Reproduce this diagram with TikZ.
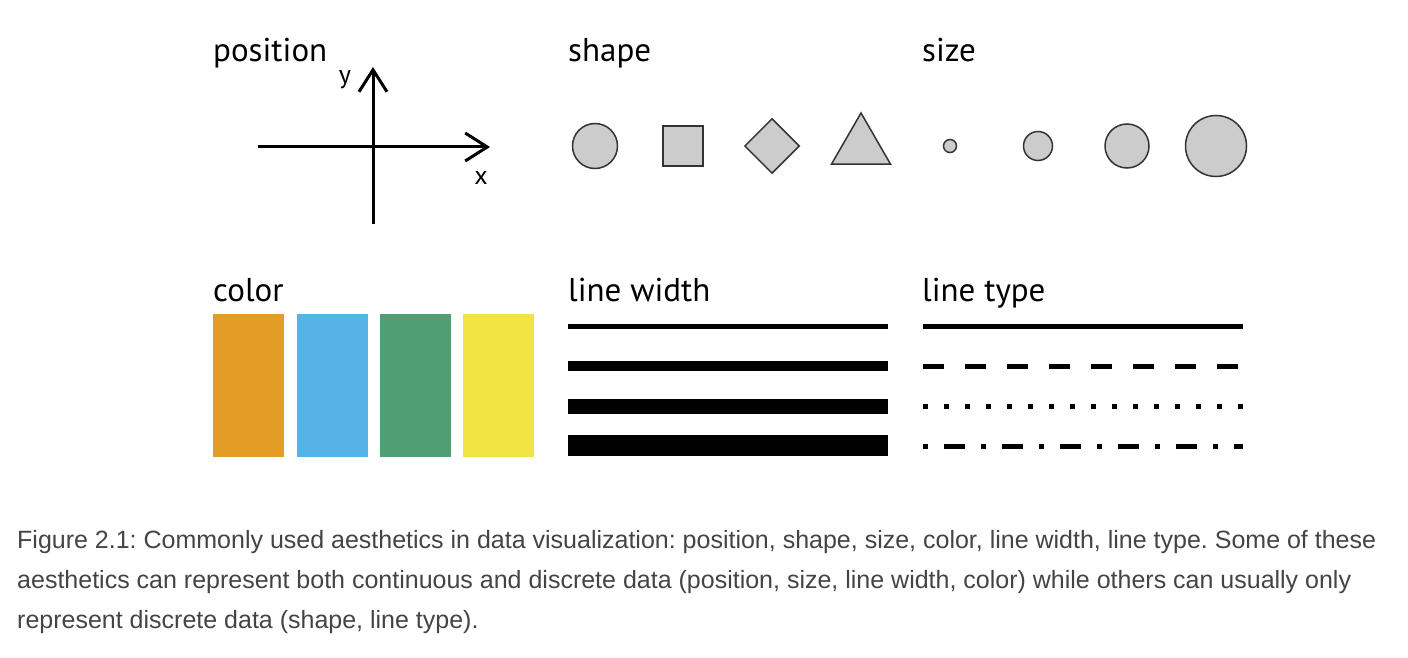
\documentclass[tikz,border=0pt]{standalone}
\usepackage{fontspec}
\setmainfont{PT Sans}
\newfontfamily\capfont{Liberation Sans}
\usetikzlibrary{positioning,arrows.meta,shapes.geometric}
\definecolor{aesorange}{HTML}{E39D27}
\definecolor{aesblue}{HTML}{56B3E7}
\definecolor{aesgreen}{HTML}{519E74}
\definecolor{aesyellow}{HTML}{EFE441}
\definecolor{glyphfill}{HTML}{CCCCCC}
\definecolor{glyphline}{HTML}{333333}
\definecolor{capgray}{HTML}{444444}
\frenchspacing

\begin{document}
\begin{tikzpicture}[x=1pt,y=-1pt,node distance=12pt,
  title/.style={anchor=base west,inner sep=0pt,font=\fontsize{33}{38}\selectfont},
  glyph/.style={draw=glyphline,fill=glyphfill,line width=1.5pt,inner sep=0pt},
  swatch/.style={rectangle,minimum width=71pt,minimum height=143pt,inner sep=0pt},
  axis/.style={line width=3pt,-{Straight Barb[length=22pt,width=28pt]}},
  caption/.style={anchor=base west,inner sep=0pt,text=capgray,font=\capfont\fontsize{25}{28}\selectfont}]
  \useasboundingbox (0,0) rectangle (1408,658);

  % panel titles
  \node[title] (tpos) at (213,62) {position};
  \node[title] (tshape) at (568,62) {shape};
  \node[title] (tsize) at (922,62) {size};
  \node[title] (tcolor) at (213,301) {color};
  \node[title] (twidth) at (568,301) {line width};
  \node[title] (ttype) at (922,301) {line type};

  % position
  \coordinate (xa) at (258,147);
  \coordinate (xb) at (490,147);
  \coordinate (ya) at (373,224);
  \coordinate (yb) at (373,67);
  \draw[axis] (xa) -- (xb);
  \draw[axis] (ya) -- (yb);
  \node[font=\fontsize{26}{30}\selectfont] (ylab) at (345,80) {y};
  \node[font=\fontsize{26}{30}\selectfont] (xlab) at (481,178) {x};

  % shape
  \node[glyph,circle,minimum size=45pt] (circ) at (595,146) {};
  \node[glyph,rectangle,minimum size=40pt] (sq) at (683,146) {};
  \node[glyph,diamond,minimum size=55pt] (dia) at (772,146) {};
  \node[glyph,regular polygon,regular polygon sides=3,minimum size=68pt] (tri) at (861,147) {};

  % size
  \node[glyph,circle,minimum size=13pt] (s1) at (950,146) {};
  \node[glyph,circle,minimum size=29pt] (s2) at (1038,146) {};
  \node[glyph,circle,minimum size=44pt] (s3) at (1127,146) {};
  \node[glyph,circle,minimum size=61pt] (s4) at (1216,146) {};

  % color
  \node[swatch,fill=aesorange,anchor=north west] (c1) at (213,314) {};
  \node[swatch,fill=aesblue,right=of c1] (c2) {};
  \node[swatch,fill=aesgreen,right=of c2] (c3) {};
  \node[swatch,fill=aesyellow,right=of c3] (c4) {};

  % line width
  \foreach \w/\y in {5/326,10/366,15/406,21/445}
    \draw[line width=\w pt] (568,\y) -- (888,\y);

  % line type
  \draw[line width=5pt] (923,326) -- (1243,326);
  \draw[line width=5pt,dash pattern=on 21pt off 21pt] (923,366) -- (1243,366);
  \draw[line width=5pt,dash pattern=on 5pt off 16pt] (923,406) -- (1243,406);
  \draw[line width=5pt,dash pattern=on 5pt off 16pt on 21pt off 16pt] (923,446) -- (1243,446);

  % caption
  \node[caption] (cap1) at (17,548) {Figure 2.1: Commonly used aesthetics in data visualization: position, shape, size, color, line width, line type. Some of these};
  \node[caption] (cap2) at (17,588) {aesthetics can represent both continuous and discrete data (position, size, line width, color) while others can usually only};
  \node[caption] (cap3) at (17,628) {represent discrete data (shape, line type).};
\end{tikzpicture}
\end{document}
